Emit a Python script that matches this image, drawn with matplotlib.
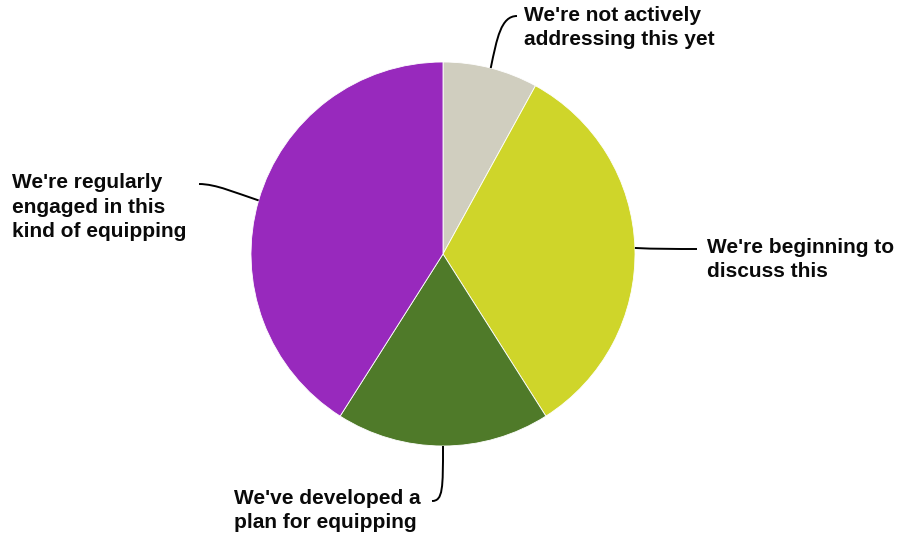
import numpy as np
import matplotlib
matplotlib.use("Agg")
import matplotlib.pyplot as plt
from matplotlib.path import Path
from matplotlib.patches import PathPatch

labels = [
    "We're not actively\naddressing this yet",
    "We're beginning to\ndiscuss this",
    "We've developed a\nplan for equipping",
    "We're regularly\nengaged in this\nkind of equipping",
]
values = [8, 33, 18, 41]
colors = ["#D0CEBF", "#CFD52A", "#4F7A29", "#9829BD"]

W, H = 898, 537
fig = plt.figure(figsize=(W / 100, H / 100), dpi=100)
ax = fig.add_axes([0, 0, 1, 1])

cx, cy, r = 443, H - 254, 192
wedges, _ = ax.pie(values, colors=colors, startangle=90, counterclock=False,
                   center=(cx, cy), radius=r, frame=True,
                   wedgeprops=dict(edgecolor="white", linewidth=0.6))
ax.set_xlim(0, W)
ax.set_ylim(0, H)
ax.set_aspect("equal")
ax.axis("off")

# text position (left x, baseline of the last line) and leader curve controls
label_pos = [(524, 45), (707, 277), (234, 528), (12, 237)]
leader_ctrl = [
    [(497, 38), (501, 16), (517, 16)],
    [(655, 249), (676, 249), (697, 249)],
    [(443, 488), (443, 501), (432, 501)],
    [(236, 193), (216, 184), (199, 184)],
]

for w, ctrl in zip(wedges, leader_ctrl):
    mid = np.deg2rad((w.theta1 + w.theta2) / 2)
    sx, sy = cx + r * np.cos(mid), cy + r * np.sin(mid)
    pts = [(sx, sy)] + [(x, H - y) for x, y in ctrl]
    path = Path(pts, [Path.MOVETO, Path.CURVE4, Path.CURVE4, Path.CURVE4])
    ax.add_patch(PathPatch(path, fill=False, edgecolor="black", linewidth=1.4))

for lab, (tx, ty) in zip(labels, label_pos):
    ax.text(tx, H - ty, lab, ha="left", va="baseline", fontsize=15,
            fontweight="bold", family="Liberation Sans", color="#0a0a0a",
            linespacing=1.35)

fig.savefig("out.png", dpi=100)
